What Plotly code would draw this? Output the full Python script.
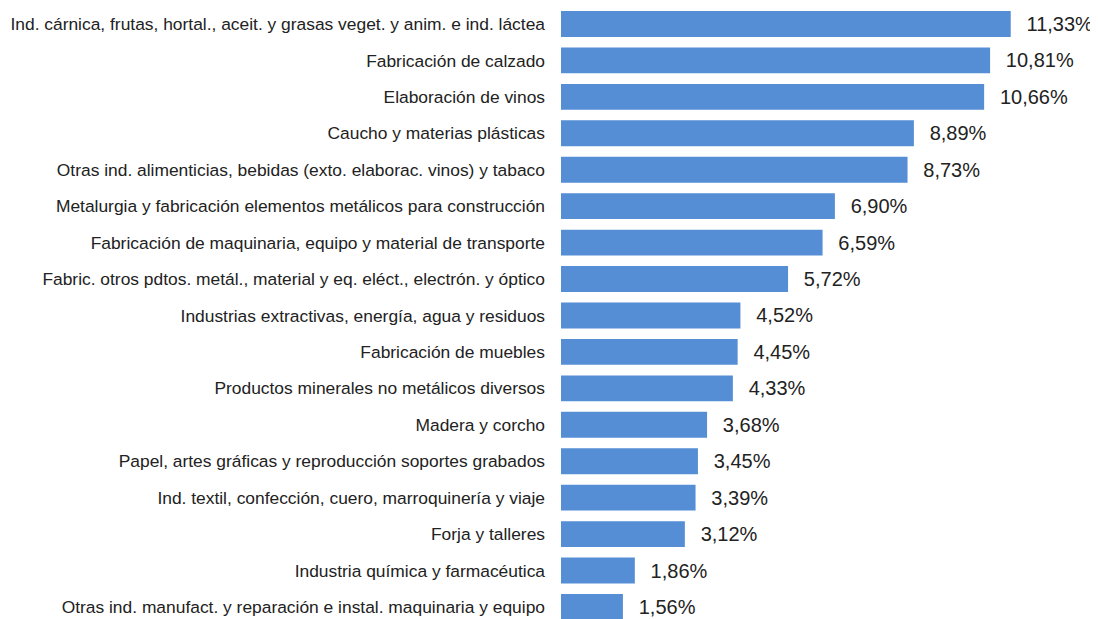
import plotly.graph_objects as go

categories = [
    "Ind. cárnica, frutas, hortal., aceit. y grasas veget. y anim. e ind. láctea",
    "Fabricación de calzado",
    "Elaboración de vinos",
    "Caucho y materias plásticas",
    "Otras ind. alimenticias, bebidas (exto. elaborac. vinos) y tabaco",
    "Metalurgia y fabricación elementos metálicos para construcción",
    "Fabricación de maquinaria, equipo y material de transporte",
    "Fabric. otros pdtos. metál., material y eq. eléct., electrón. y óptico",
    "Industrias extractivas, energía, agua y residuos",
    "Fabricación de muebles",
    "Productos minerales no metálicos diversos",
    "Madera y corcho",
    "Papel, artes gráficas y reproducción soportes grabados",
    "Ind. textil, confección, cuero, marroquinería y viaje",
    "Forja y talleres",
    "Industria química y farmacéutica",
    "Otras ind. manufact. y reparación e instal. maquinaria y equipo",
]
values = [11.33, 10.81, 10.66, 8.89, 8.73, 6.90, 6.59, 5.72, 4.52, 4.45, 4.33,
          3.68, 3.45, 3.39, 3.12, 1.86, 1.56]
value_labels = [f"{v:.2f}".replace(".", ",") + "%" for v in values]

fig = go.Figure(go.Bar(
    x=values, y=categories, orientation="h",
    marker=dict(color="#558ED5", line=dict(width=0)),
    text=["  \u200a" + t for t in value_labels], textposition="outside",
    textfont=dict(size=20, color="#222222", family="Liberation Sans, Arial, sans-serif"),
    cliponaxis=False,
))
fig.update_layout(
    width=1098, height=619,
    margin=dict(l=553, r=0, t=0, b=0),
    paper_bgcolor="white", plot_bgcolor="white",
    bargap=0.29, showlegend=False,
    font=dict(family="Liberation Sans, Arial, sans-serif", color="#222222"),
)
fig.update_xaxes(range=[0, 13.73], visible=False)
fig.update_yaxes(range=[16.55, -0.439], tickfont=dict(size=17.4, color="#222222"),
                 ticks="", showgrid=False, zeroline=False, showline=False,
                 ticklabelstandoff=15, categoryorder="array", categoryarray=categories)
fig.write_html("out.html")
